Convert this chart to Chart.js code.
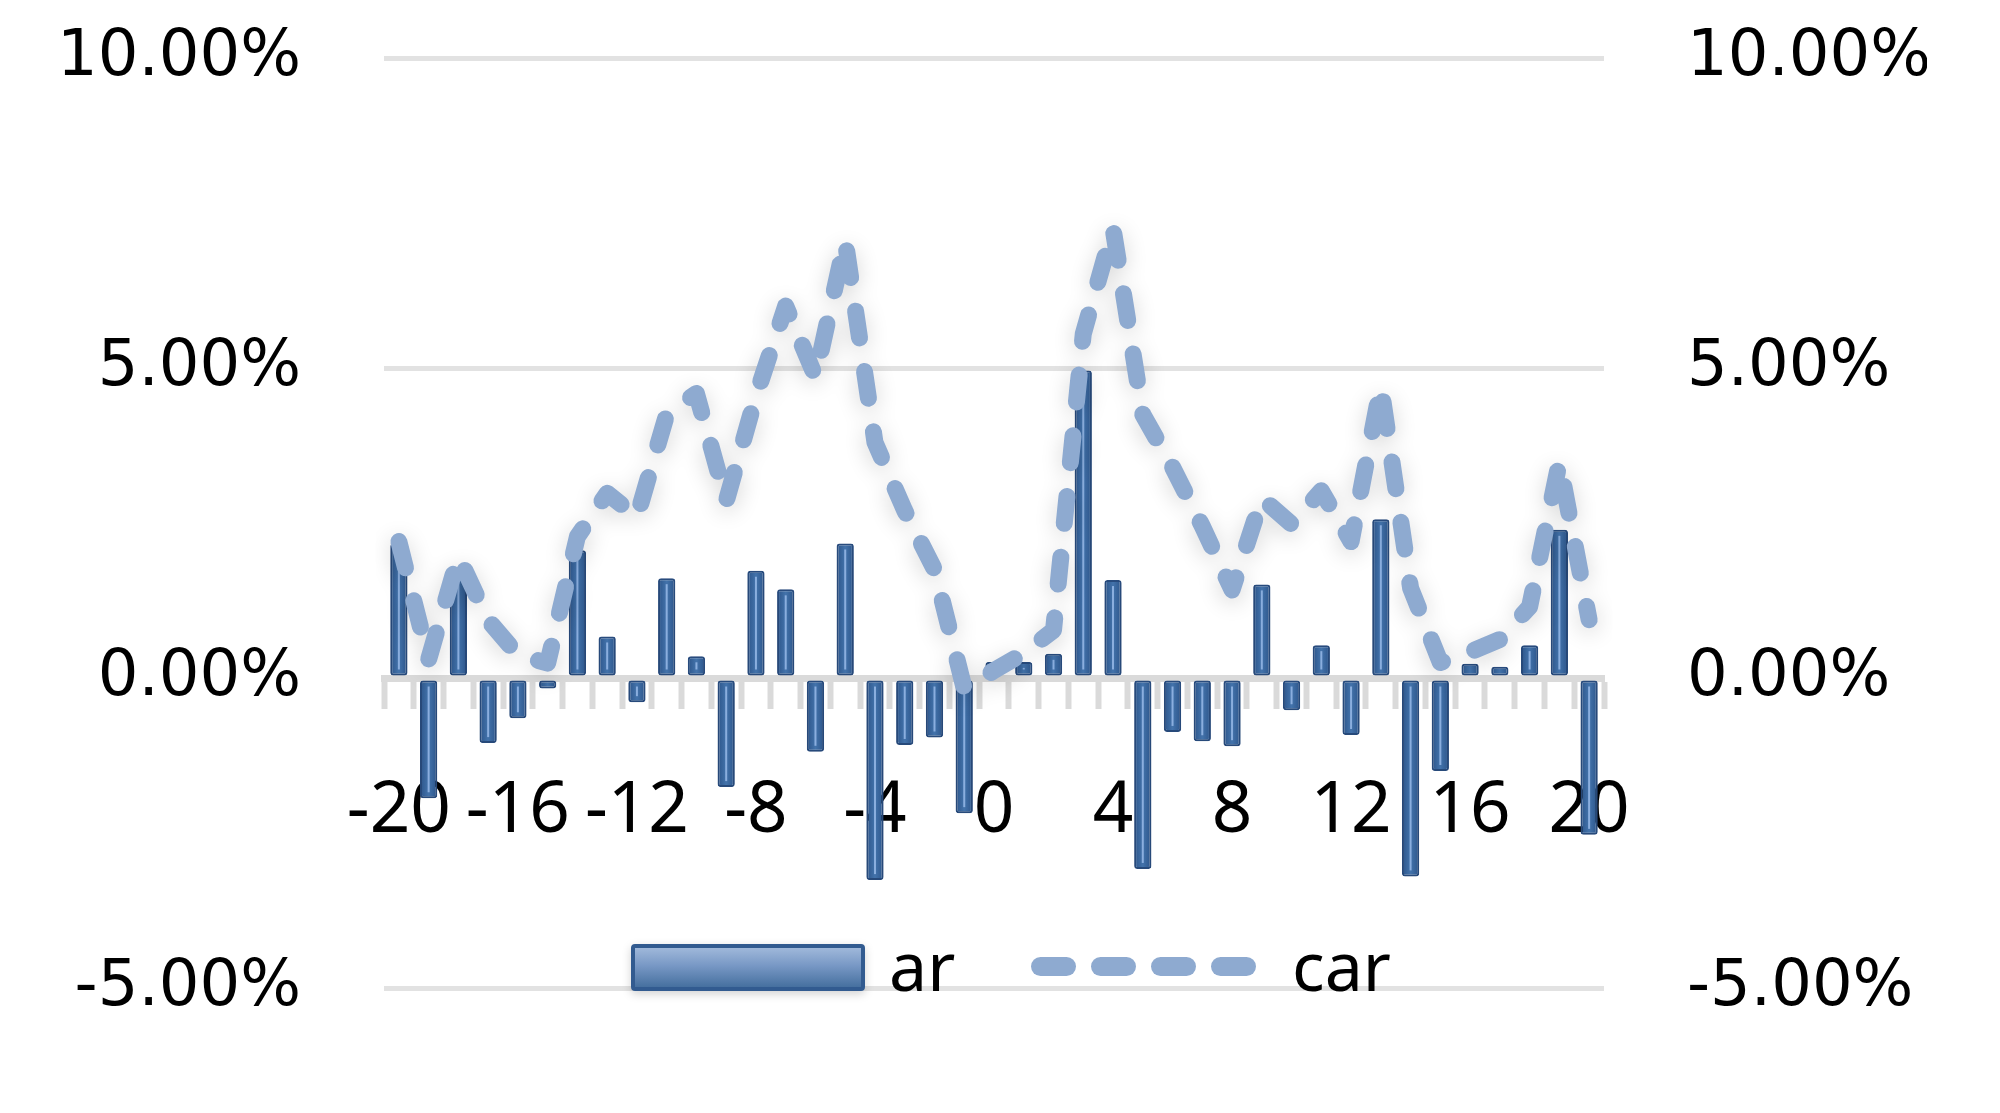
<!DOCTYPE html>
<html>
<head>
<meta charset="utf-8">
<script src="https://cdn.jsdelivr.net/npm/chart.js@4.4.1/dist/chart.umd.min.js"></script>
<style>
  html, body { margin: 0; padding: 0; background: #ffffff; }
  #wrap { position: relative; width: 2000px; height: 1113px; overflow: hidden; }
  #c { position: absolute; left: 0; top: 0; }
  .lg { position: absolute; font-family: "Noto Sans", sans-serif; font-size: 68px; line-height: 68px; color: #000; white-space: nowrap; }
  .swbar { position: absolute; box-sizing: border-box; border: 4px solid #325b90; border-radius: 4px;
           background: linear-gradient(to bottom, #9fb8da 0%, #7898c5 45%, #46709f 100%);
           box-shadow: 0 3px 10px rgba(0,0,0,0.18); }
  .dash { position: absolute; height: 19px; border-radius: 10px; background: #8eaad0; }
</style>
</head>
<body>
<div id="wrap">
  <canvas id="c" width="2000" height="1113"></canvas>
  <div id="legend"></div>
</div>
<script>
// ---------- data ----------
const categories = ['-20','-19','-18','-17','-16','-15','-14','-13','-12','-11','-10','-9','-8','-7','-6','-5','-4','-3','-2','-1','0',
                    '1','2','3','4','5','6','7','8','9','10','11','12','13','14','15','16','17','18','19','20'];
const shownXLabels = ['-20','-16','-12','-8','-4','0','4','8','12','16','20'];
const seriesNames = ['ar', 'car'];
const arValues = [2.17, -1.94, 1.73, -1.05, -0.65, -0.17, 2.06, 0.67, -0.39, 1.61, 0.35, -1.76, 1.73, 1.43, -1.19, 2.17, -3.26, -1.08, -0.96, -2.18, 0.26,
                  0.26, 0.39, 4.96, 1.58, -3.08, -0.87, -1.02, -1.10, 1.51, -0.52, 0.53, -0.92, 2.56, -3.20, -1.50, 0.23, 0.18, 0.53, 2.39, -2.53];
const carValues = [2.20, 0.30, 1.96, 0.93, 0.37, 0.24, 2.28, 2.98, 2.60, 4.25, 4.59, 2.85, 4.55, 6.00, 4.86, 7.05, 3.80, 2.70, 1.75, -0.17, 0.12,
                   0.40, 0.77, 5.55, 7.25, 4.25, 3.40, 2.45, 1.42, 2.90, 2.48, 3.02, 2.20, 4.70, 1.45, 0.25, 0.42, 0.62, 1.15, 3.48, 0.94];
const yTickValues = [-5, 0, 5, 10];

// ---------- styles ----------
const barFill = '#3b659b';
const barEdge = '#294d80';
const lineColor = 'rgb(142,170,208)';
const gridColor = '#e2e2e2';
const axisColor = '#dadada';

const fmtPct = v => v.toFixed(2) + '%';

const decor = {
  id: 'decor',
  beforeDatasetDraw(chart, args) {
    const ctx = chart.ctx;
    ctx.save();
    ctx.shadowColor = 'rgba(0,0,0,0.16)';
    ctx.shadowBlur = 22;
    ctx.shadowOffsetX = 0;
    ctx.shadowOffsetY = 5;
  },
  afterDatasetDraw(chart, args) {
    const ctx = chart.ctx;
    ctx.restore();
    const ds = chart.data.datasets[args.index];
    if (ds.type !== 'bar') return;
    const meta = chart.getDatasetMeta(args.index);
    ctx.save();
    ctx.strokeStyle = 'rgba(150,185,232,0.85)';
    ctx.lineWidth = 2;
    meta.data.forEach(el => {
      const top = Math.min(el.y, el.base), bot = Math.max(el.y, el.base);
      if (bot - top < 12) return;
      ctx.beginPath();
      ctx.moveTo(el.x, top + 6);
      ctx.lineTo(el.x, bot - 6);
      ctx.stroke();
    });
    ctx.restore();
  }
};

const yFit = s => { s.width = 323; s.paddingTop = 0; s.paddingBottom = 0; };

const chart = new Chart(document.getElementById('c'), {
  data: {
    labels: categories,
    datasets: [
      {
        type: 'line', label: seriesNames[1], data: carValues, yAxisID: 'y2', order: 0,
        borderColor: lineColor, borderWidth: 17, borderDash: [27, 34],
        borderCapStyle: 'round', borderJoinStyle: 'round',
        pointRadius: 0, tension: 0, fill: false
      },
      {
        type: 'bar', label: seriesNames[0], data: arValues, yAxisID: 'y', order: 1,
        backgroundColor: (c) => {
          if (c.type !== 'data' || !c.chart.scales || !c.chart.scales.x) return barFill;
          const x = c.chart.scales.x.getPixelForValue(c.dataIndex);
          if (!isFinite(x)) return barFill;
          const g = c.chart.ctx.createLinearGradient(x - 9, 0, x + 9, 0);
          g.addColorStop(0, '#2b5388');
          g.addColorStop(0.5, '#4373ab');
          g.addColorStop(1, '#2b5388');
          return g;
        },
        borderColor: barEdge, borderWidth: 2, borderRadius: 3, borderSkipped: false,
        categoryPercentage: 1.0, barPercentage: 0.58
      }
    ]
  },
  options: {
    responsive: false,
    animation: false,
    devicePixelRatio: 1,
    layout: { padding: { left: 61, right: 73, top: 58, bottom: 125 } },
    plugins: { legend: { display: false }, tooltip: { enabled: false } },
    scales: {
      x: {
        type: 'category',
        position: { y: 0 },
        offset: true,
        grid: { drawOnChartArea: false, offset: true, drawTicks: true, tickLength: 27, tickWidth: 6, tickColor: axisColor },
        border: { display: true, color: axisColor, width: 7 },
        ticks: {
          autoSkip: false, maxRotation: 0, padding: 64, color: '#000',
          font: { family: 'Noto Sans', size: 71 },
          callback: function(v, i) { const l = this.getLabelForValue(v); return shownXLabels.includes(l) ? l : ''; }
        }
      },
      y: {
        position: 'left', min: -5, max: 10,
        afterBuildTicks: s => { s.ticks = yTickValues.map(v => ({ value: v })); },
        afterFit: yFit,
        grid: { color: gridColor, lineWidth: 5, drawTicks: false },
        border: { display: false },
        ticks: { padding: 83, color: '#000', font: { family: 'DejaVu Sans', size: 64 }, callback: v => fmtPct(v) }
      },
      y2: {
        position: 'right', min: -5, max: 10,
        afterBuildTicks: s => { s.ticks = yTickValues.map(v => ({ value: v })); },
        afterFit: yFit,
        grid: { drawOnChartArea: false, drawTicks: false },
        border: { display: false },
        ticks: { padding: 83, color: '#000', font: { family: 'DejaVu Sans', size: 64 }, callback: v => fmtPct(v) }
      }
    }
  },
  plugins: [decor]
});

// ---------- legend (HTML, from dataset labels) ----------
(function buildLegend() {
  const lg = document.getElementById('legend');
  const barDs = chart.data.datasets.find(d => d.type === 'bar');
  const lineDs = chart.data.datasets.find(d => d.type === 'line');
  const sw = document.createElement('div');
  sw.className = 'swbar';
  Object.assign(sw.style, { left: '631px', top: '944px', width: '234px', height: '47px' });
  lg.appendChild(sw);
  const t1 = document.createElement('div');
  t1.className = 'lg'; t1.textContent = barDs.label;
  Object.assign(t1.style, { left: '889px', top: '931px' });
  lg.appendChild(t1);
  for (let i = 0; i < 4; i++) {
    const d = document.createElement('div');
    d.className = 'dash';
    Object.assign(d.style, { left: (1031 + i * 60) + 'px', top: '957px', width: '45px' });
    lg.appendChild(d);
  }
  const t2 = document.createElement('div');
  t2.className = 'lg'; t2.textContent = lineDs.label;
  Object.assign(t2.style, { left: '1292px', top: '931px' });
  lg.appendChild(t2);
})();
</script>
</body>
</html>
